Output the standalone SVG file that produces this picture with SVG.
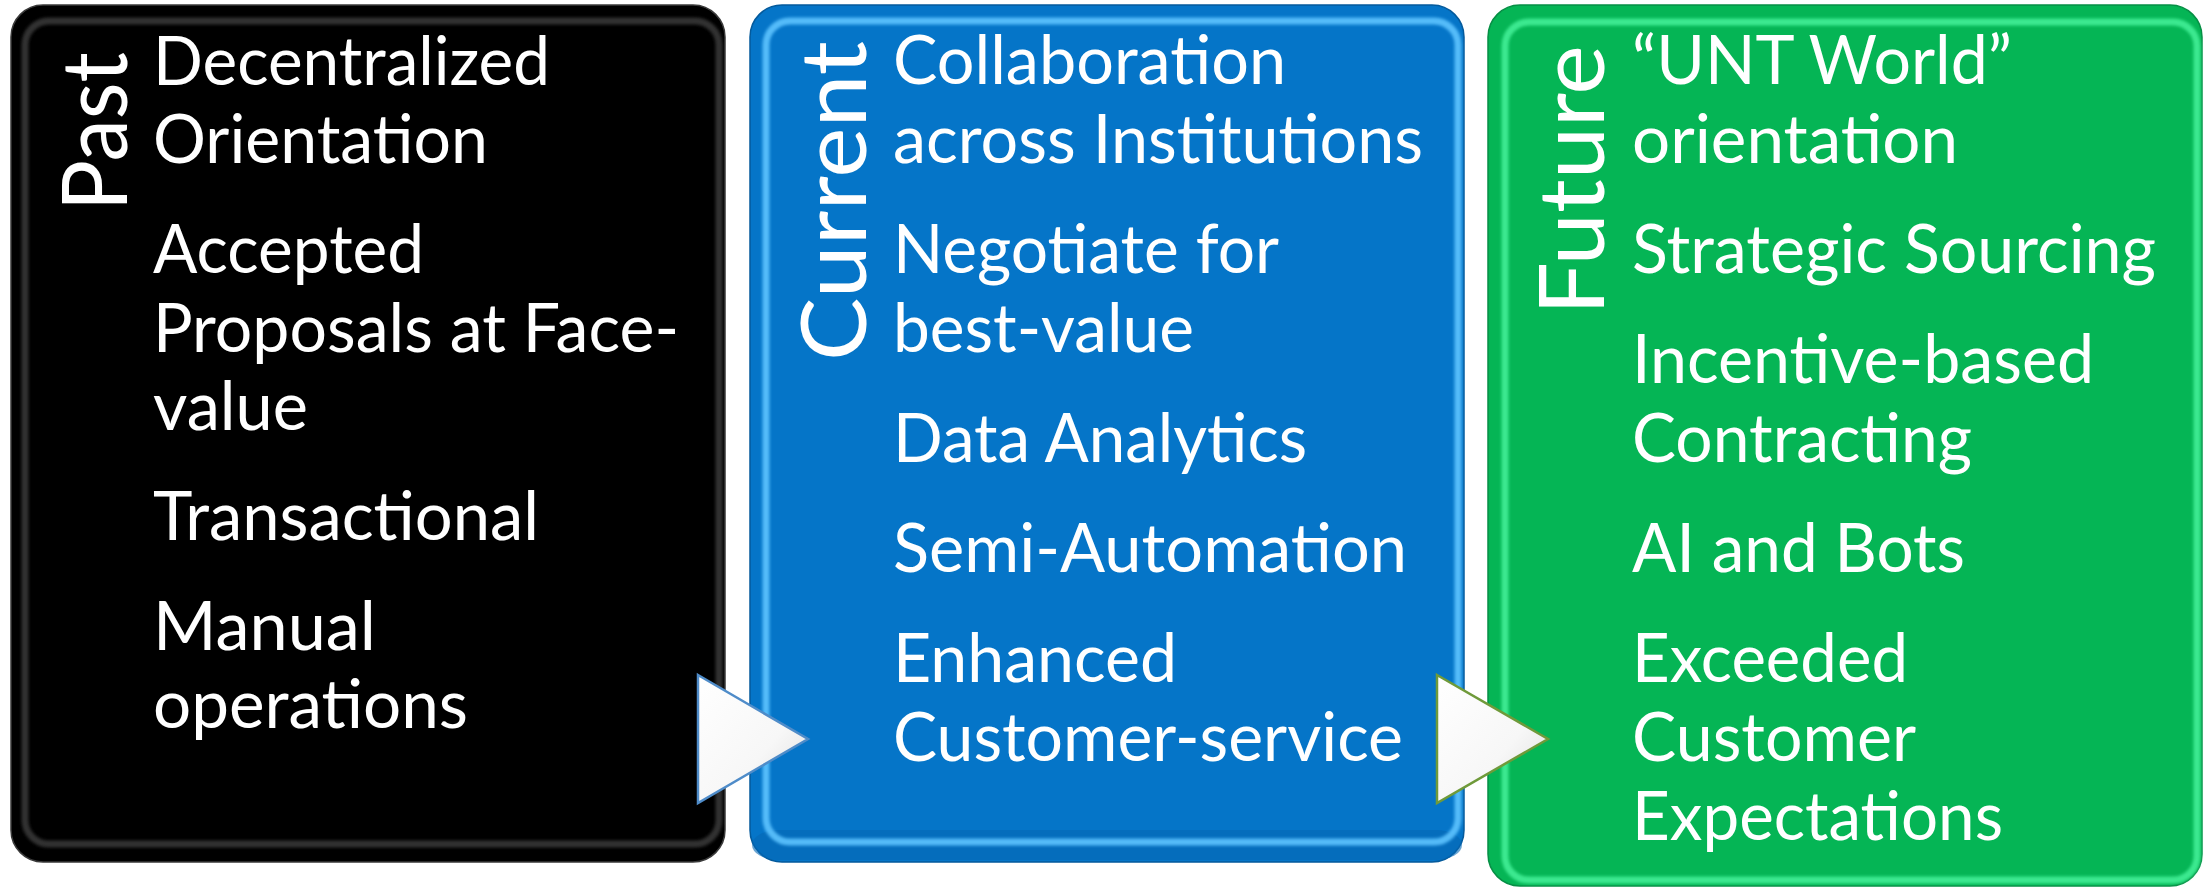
<svg xmlns="http://www.w3.org/2000/svg" width="2208" height="888" viewBox="0 0 2208 888">
  <style>
    .t { font-family: Lato, "Open Sans", "Liberation Sans", sans-serif; fill: #ffffff; }
    .body { font-size: 67px; }
    .title { font-size: 92px; }
    .hl { fill: none; stroke-width: 7; filter: url(#soft); }
  </style>
  <defs>
    <filter id="soft" x="-5%" y="-5%" width="110%" height="110%">
      <feGaussianBlur stdDeviation="1.6"/>
    </filter>
    <linearGradient id="arrowFill" x1="0" y1="0" x2="1" y2="1">
      <stop offset="0" stop-color="#ffffff"/>
      <stop offset="0.6" stop-color="#f7f7f7"/>
      <stop offset="1" stop-color="#dcdcdc"/>
    </linearGradient>
  </defs>

  <rect width="2208" height="888" fill="#ffffff"/>

  <g id="past">
    <rect x="11" y="5" width="714" height="857" rx="32" fill="#000000" stroke="#3a3a3a" stroke-width="1.5"/>
    <rect class="hl" x="25" y="21" width="694" height="823" rx="24" stroke="#5a5a5a" stroke-opacity="0.55"/>
    <text class="t title" transform="translate(127,211) rotate(-90)" textLength="159" lengthAdjust="spacingAndGlyphs">Past</text>
    <g class="t body">
      <text x="153" y="85" textLength="397" lengthAdjust="spacingAndGlyphs">Decentralized</text>
      <text x="153" y="163" textLength="335" lengthAdjust="spacingAndGlyphs">Orientation</text>
      <text x="153" y="273" textLength="271" lengthAdjust="spacingAndGlyphs">Accepted</text>
      <text x="153" y="352" textLength="526" lengthAdjust="spacingAndGlyphs">Proposals at Face-</text>
      <text x="153" y="430" textLength="155" lengthAdjust="spacingAndGlyphs">value</text>
      <text x="153" y="540" textLength="386" lengthAdjust="spacingAndGlyphs">Transactional</text>
      <text x="153" y="650" textLength="223" lengthAdjust="spacingAndGlyphs">Manual</text>
      <text x="153" y="728" textLength="315" lengthAdjust="spacingAndGlyphs">operations</text>
    </g>
  </g>

  <g id="current">
    <rect x="750" y="5" width="714" height="857" rx="32" fill="#0575C8" stroke="#045a9c" stroke-width="1.5"/>
    <rect x="752" y="830" width="710" height="30" rx="26" fill="#0567b4" opacity="0.6"/>
    <rect class="hl" x="766" y="21" width="692" height="821" rx="24" stroke="#5cc3ff" stroke-opacity="0.9"/>
    <text class="t title" transform="translate(866,361) rotate(-90)" textLength="320" lengthAdjust="spacingAndGlyphs">Current</text>
    <g class="t body">
      <text x="893" y="84" textLength="393" lengthAdjust="spacingAndGlyphs">Collaboration</text>
      <text x="893" y="163" textLength="530" lengthAdjust="spacingAndGlyphs">across Institutions</text>
      <text x="893" y="273" textLength="386" lengthAdjust="spacingAndGlyphs">Negotiate for</text>
      <text x="893" y="352" textLength="301" lengthAdjust="spacingAndGlyphs">best-value</text>
      <text x="893" y="462" textLength="414" lengthAdjust="spacingAndGlyphs">Data Analytics</text>
      <text x="893" y="572" textLength="514" lengthAdjust="spacingAndGlyphs">Semi-Automation</text>
      <text x="893" y="682" textLength="284" lengthAdjust="spacingAndGlyphs">Enhanced</text>
      <text x="893" y="761" textLength="510" lengthAdjust="spacingAndGlyphs">Customer-service</text>
    </g>
  </g>

  <g id="future">
    <rect x="1488" y="5" width="714" height="881" rx="32" fill="#05B555" stroke="#068f45" stroke-width="1.5"/>
    <rect class="hl" x="1505" y="22" width="692" height="858" rx="24" stroke="#45f29a" stroke-opacity="0.85"/>
    <text class="t title" transform="translate(1604,315) rotate(-90)" textLength="270" lengthAdjust="spacingAndGlyphs">Future</text>
    <g class="t body">
      <text x="1632" y="84" textLength="380" lengthAdjust="spacingAndGlyphs">“UNT World”</text>
      <text x="1632" y="163" textLength="326" lengthAdjust="spacingAndGlyphs">orientation</text>
      <text x="1632" y="273" textLength="524" lengthAdjust="spacingAndGlyphs">Strategic Sourcing</text>
      <text x="1632" y="383" textLength="462" lengthAdjust="spacingAndGlyphs">Incentive-based</text>
      <text x="1632" y="462" textLength="340" lengthAdjust="spacingAndGlyphs">Contracting</text>
      <text x="1632" y="572" textLength="333" lengthAdjust="spacingAndGlyphs">AI and Bots</text>
      <text x="1632" y="682" textLength="276" lengthAdjust="spacingAndGlyphs">Exceeded</text>
      <text x="1632" y="761" textLength="284" lengthAdjust="spacingAndGlyphs">Customer</text>
      <text x="1632" y="840" textLength="371" lengthAdjust="spacingAndGlyphs">Expectations</text>
    </g>
  </g>

  <g id="connectors">
    <polygon points="698,675 808,739 698,803" fill="url(#arrowFill)" stroke="#4f8cc9" stroke-width="2.5" stroke-linejoin="miter"/>
    <polygon points="1437,675 1548,739 1437,803" fill="url(#arrowFill)" stroke="#6f9a3a" stroke-width="2.5" stroke-linejoin="miter"/>
  </g>
</svg>
